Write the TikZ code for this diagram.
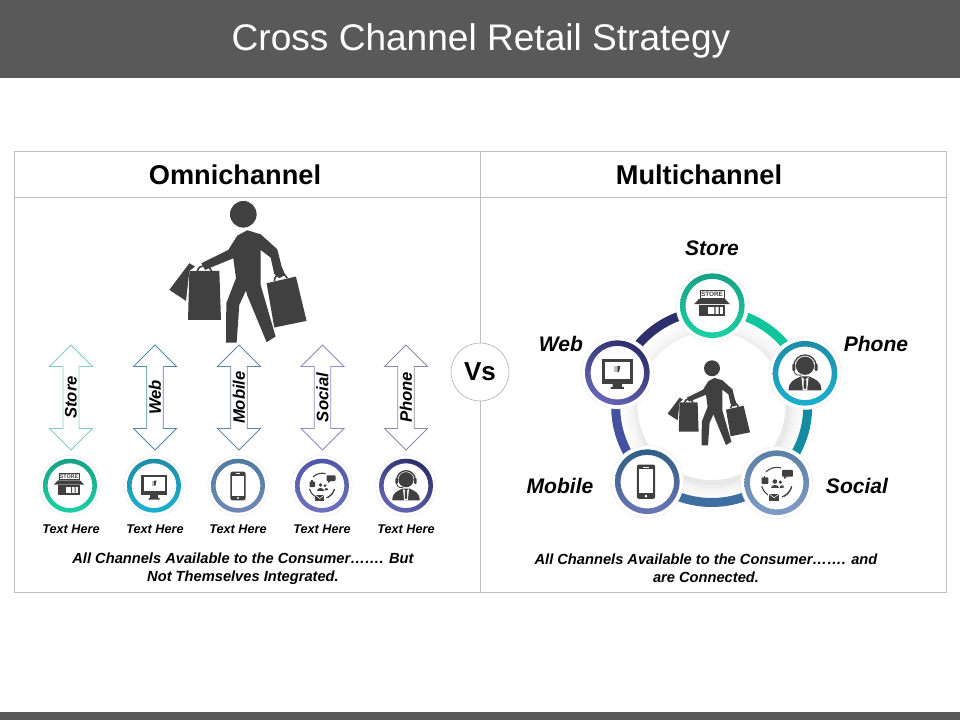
\documentclass[tikz,border=0pt]{standalone}
\usepackage{fontspec}
\setmainfont{Liberation Sans}
\usetikzlibrary{shapes.arrows}
\definecolor{bargray}{HTML}{595959}
\definecolor{icongray}{HTML}{404040}
\definecolor{linegray}{HTML}{BFBFBF}
\definecolor{arrowstore}{HTML}{7FCFBF}
\definecolor{arrowweb}{HTML}{4F8CA6}
\definecolor{arrowmobile}{HTML}{6486A8}
\definecolor{arrowsocial}{HTML}{8C90C4}
\definecolor{arrowphone}{HTML}{8A8AA8}
\definecolor{storedark}{HTML}{17A184}
\definecolor{storelight}{HTML}{1BD1A4}
\definecolor{webdark}{HTML}{1F8CA5}
\definecolor{weblight}{HTML}{1BB0D0}
\definecolor{mobiledark}{HTML}{4F7BA0}
\definecolor{mobilelight}{HTML}{7088B8}
\definecolor{socialdark}{HTML}{4F55A5}
\definecolor{sociallight}{HTML}{6F72BF}
\definecolor{phonedark}{HTML}{2C2F6C}
\definecolor{phonelight}{HTML}{6466B5}
\definecolor{rsocialdark}{HTML}{5B7FA6}
\definecolor{rsociallight}{HTML}{7F9CC4}
\definecolor{rmobiledark}{HTML}{2F5F85}
\definecolor{rmobilelight}{HTML}{6A75B5}
\definecolor{arcgreen}{HTML}{10C49C}
\definecolor{arcteal}{HTML}{148CA0}
\definecolor{arcblue}{HTML}{3F6FA0}
\definecolor{arcindigo}{HTML}{4450A0}
\definecolor{arcnavy}{HTML}{2C2F6C}
\tikzset{
  titletext/.style={font=\bfseries\fontsize{20.4}{24}\selectfont},
  namelabel/.style={font=\bfseries\itshape\fontsize{15.8}{19}\selectfont},
  smalllabel/.style={font=\bfseries\itshape\fontsize{9.5}{11}\selectfont},
  notetext/.style={font=\bfseries\itshape\fontsize{11}{13.2}\selectfont,align=center},
  chanarrow/.style={shape=double arrow,rotate=90,fill=white,inner sep=0pt,line width=.6pt,
    minimum height=78.75pt,minimum width=32.25pt,double arrow head extend=7.9pt,
    font=\bfseries\itshape\fontsize{12.5}{15}\selectfont},
  icondark/.style={fill=icongray},
  shopper/.pic={
    \begin{scope}[shift={(-250,-58)},icondark]
      \fill (250,58) circle (40);
      \fill (262,106) -- (302,118) -- (352,163) -- (365,215) -- (376,240) -- (358,250) -- (343,237)
        -- (332,188) -- (302,165) -- (302,270) -- (347,425) -- (320,442) -- (262,302) -- (258,287)
        -- (238,330) -- (230,443) -- (198,443) -- (199,325) -- (228,250) -- (220,190) -- (135,225)
        -- (124,205) -- (205,165) -- (232,122) -- cycle;
      \fill (88,228) -- (178,228) -- (183,375) -- (84,375) -- cycle;
      \fill (88,205) -- (105,215) -- (88,228) -- (78,318) -- (28,285) -- cycle;
      \fill (320,265) -- (408,245) -- (440,378) -- (343,398) -- cycle;
      \draw[icongray,line width=1.2pt] (112,228) .. controls (118,205) and (150,210) .. (155,228);
      \draw[icongray,line width=1.2pt] (343,258) .. controls (345,232) and (378,232) .. (382,250);
    \end{scope}
  },
  storeicon/.pic={
    \draw[icongray,fill=white,line width=.5pt] (-10,-13) rectangle (10,-6.3);
    \node[transform shape,inner sep=0pt,text=icongray,font=\bfseries\fontsize{4}{4}\selectfont] (sign) at (0,-9.6) {STORE};
    \fill[icondark] (-15,-1.5) -- (-11,-5.7) -- (11,-5.7) -- (15,-1.5) -- cycle;
    \fill[icondark] (-11,-1) rectangle (11,8.5);
    \fill[white] (-7.5,1) rectangle (9,6.5);
    \fill[icondark] (-7.5,1) rectangle (-3,8.5);
    \fill[icondark] (2,1) rectangle (3,6.5) (5.5,1) rectangle (6.5,6.5);
  },
  webicon/.pic={
    \fill[icondark] (-13,-11.3) rectangle (13,9.3);
    \fill[white] (-10.5,-9) rectangle (10.5,5);
    \fill[icondark] (-4,9) rectangle (4,12) (-5.5,12) rectangle (5.5,13.5);
    \fill[gray!50] (-2.5,-5.5) rectangle (0,-.5);
    \fill[icongray] (0,-5.5) -- (2.5,-5.5) -- (1.5,-.5) -- (0,-.5) -- cycle;
  },
  mobileicon/.pic={
    \fill[icondark,rounded corners=1.5pt] (-7.6,-14.3) rectangle (7.6,14.3);
    \fill[white] (-6,-10.3) rectangle (6,9.8);
    \fill[white] (-2.2,-12.6) rectangle (2.2,-11.8);
    \fill[white] (0,12) circle (1.2);
  },
  socialicon/.pic={
    \draw[icongray,line width=.8pt] (-9,-9) arc[start angle=225,end angle=285,radius=13];
    \draw[icongray,line width=.8pt] (12.5,3) arc[start angle=15,end angle=70,radius=13];
    \draw[icongray,line width=.8pt] (-12.5,3) arc[start angle=165,end angle=125,radius=13];
    \draw[icongray,line width=.8pt] (6,11.5) arc[start angle=62,end angle=15,radius=13];
    \fill[icondark,rounded corners=.5pt] (-12.5,-4.5) rectangle (-7,1);
    \fill[icondark] (-11,-6) rectangle (-9.5,-3);
    \fill[icondark,rounded corners=.6pt] (4.5,-10.6) rectangle (13.5,-5);
    \fill[icondark] (6,-5.2) -- (9,-5.2) -- (6,-3) -- cycle;
    \fill[icondark] (-6.7,9.2) rectangle (2.3,15.2);
    \draw[white,line width=.4pt] (-6.7,9.2) -- (-2.2,12.5) -- (2.3,9.2);
    \fill[icondark] (-1.5,-1) circle (1.9) (3,-.4) circle (1.5);
    \fill[icondark] (-4.8,4.5) .. controls (-4.8,.8) and (1.8,.8) .. (1.8,4.5) -- cycle;
    \fill[icondark] (2.4,4.5) .. controls (2.4,1.6) and (6,1.2) .. (6.2,4) -- cycle;
  },
  agenticon/.pic={
    \fill[icondark] (0,-6.3) circle (7.6);
    \draw[icongray,line width=1pt] (-9.3,-6) arc[start angle=180,end angle=360,radius=9.3];
    \fill[icondark,rounded corners=.8pt] (-10.6,-8) rectangle (-8,-2) (8,-8) rectangle (10.6,-2);
    \draw[icongray,line width=.6pt] (-9.2,-2) .. controls (-8.5,2) and (-5,1.8) .. (-3,1.6);
    \fill[icondark] (-13.7,14.3) .. controls (-13.7,6) and (-8,5) .. (-3.5,2.6) -- (3.5,2.6)
      .. controls (8,5) and (13.7,6) .. (13.7,14.3) -- cycle;
    \fill[white] (-3,3) -- (0,5.4) -- (3,3) -- (1.8,14.3) -- (-1.8,14.3) -- cycle;
    \fill[icondark] (-1,5) -- (1,5) -- (1.2,12) -- (0,13.5) -- (-1.2,12) -- cycle;
  }
}
% name, x, y, ring radius, dark colour, bright colour, angle
\newcommand{\chanring}[7]{
  \node[circle,fill=white,draw=gray!15,inner sep=0pt,minimum size=#4*1.68pt] (#1) at (#2,#3) {};
  \path[even odd rule,top color=#5,bottom color=#6,shading angle=#7] (#2,#3) circle (#4) (#2,#3) circle ({#4*0.83});
}
\begin{document}
\begin{tikzpicture}[x=0.75pt,y=-0.75pt]
  \useasboundingbox (0,0) rectangle (960,720);
  \fill[white] (0,0) rectangle (960,720);
  % top and bottom bars
  \fill[bargray] (0,0) rectangle (960,78);
  \fill[bargray] (0,712) rectangle (960,720);
  \node[text=white,font=\fontsize{27.8}{32}\selectfont] (title) at (481,41) {Cross Channel Retail Strategy};

  % table
  \draw[linegray] (14.5,151.5) rectangle (946.5,592);
  \draw[linegray] (14.5,197) -- (946.5,197);
  \draw[linegray] (480.5,151.5) -- (480.5,592);
  \node[titletext] (omni) at (235,175) {Omnichannel};
  \node[titletext] (multi) at (699,175) {Multichannel};
  \node[circle,draw=gray!70,fill=white,inner sep=0pt,minimum size=43.5pt,font=\bfseries\fontsize{19.5}{23}\selectfont] (vs) at (480,372) {Vs};

  % left side
  \pic[scale=0.333] (shopbig) at (243.3,214.3) {shopper};
  \foreach \nam/\xx/\col in {Store/71/arrowstore,Web/155/arrowweb,Mobile/239/arrowmobile,Social/322.5/arrowsocial,Phone/406/arrowphone}
    \node[chanarrow,draw=\col] (arrow\nam) at (\xx,397.5) {\nam};

  \chanring{lstore}{70}{485.7}{27}{storedark}{storelight}{0}
  \chanring{lweb}{154}{485.7}{27}{webdark}{weblight}{0}
  \chanring{lmobile}{238}{485.7}{27}{mobiledark}{mobilelight}{0}
  \chanring{lsocial}{322}{485.7}{27}{socialdark}{sociallight}{0}
  \chanring{lphone}{406}{485.7}{27}{phonedark}{phonelight}{-30}
  \pic at (69,486) {storeicon};
  \pic at (154,486) {webicon};
  \pic at (238,486) {mobileicon};
  \pic at (322,486) {socialicon};
  \pic at (406,486) {agenticon};
  \foreach \xx in {71,155,238,322,406}
    \node[smalllabel] (here\xx) at (\xx,529) {Text Here};
  \node[notetext] (noteleft) at (243,568.5) {All Channels Available to the Consumer……. But\\Not Themselves Integrated.};

  % right side
  \foreach \rr/\gg in {91/2,88/4,85/6,82/9,79/13,76/18}
    \fill[gray!\gg] (713,409) circle (\rr);
  \fill[white] (711.5,406) circle (74);
  \draw[line width=6.75pt,color=arcgreen] (711.7,406.5) ++(-90:96) arc[start angle=-90,end angle=-19,radius=96];
  \draw[line width=6.75pt,color=arcteal] (711.7,406.5) ++(-19:96) arc[start angle=-19,end angle=50,radius=96];
  \draw[line width=6.75pt,color=arcblue] (711.7,406.5) ++(50:96) arc[start angle=50,end angle=130,radius=96];
  \draw[line width=6.75pt,color=arcindigo] (711.7,406.5) ++(130:96) arc[start angle=130,end angle=200,radius=96];
  \draw[line width=6.75pt,color=arcnavy] (711.7,406.5) ++(200:96) arc[start angle=200,end angle=270,radius=96];
  \chanring{rstore}{712.3}{305.7}{32.3}{storedark}{storelight}{0}
  \chanring{rphone}{805}{373.3}{32.3}{webdark}{weblight}{0}
  \chanring{rsocial}{776.7}{482.7}{32.3}{rsocialdark}{rsociallight}{0}
  \chanring{rmobile}{647.3}{481.7}{32.3}{rmobiledark}{rmobilelight}{0}
  \chanring{rweb}{617.3}{372.7}{32.3}{phonedark}{phonelight}{-30}
  \pic[scale=1.2] at (712,306) {storeicon};
  \pic[scale=1.2] at (617.3,372.7) {webicon};
  \pic[scale=1.2] at (646,481.7) {mobileicon};
  \pic[scale=1.2] at (776.7,482.7) {socialicon};
  \pic[scale=1.2] at (805,373.3) {agenticon};
  \pic[scale=0.2] (shopsmall) at (712,368.3) {shopper};
  \node[namelabel] (nstore) at (712,248) {Store};
  \node[namelabel] (nweb) at (561,344) {Web};
  \node[namelabel] (nphone) at (876,344) {Phone};
  \node[namelabel] (nmobile) at (560,486) {Mobile};
  \node[namelabel] (nsocial) at (857,486) {Social};
  \node[notetext] (noteright) at (706,568) {All Channels Available to the Consumer……. and\\are Connected.};
\end{tikzpicture}
\end{document}
